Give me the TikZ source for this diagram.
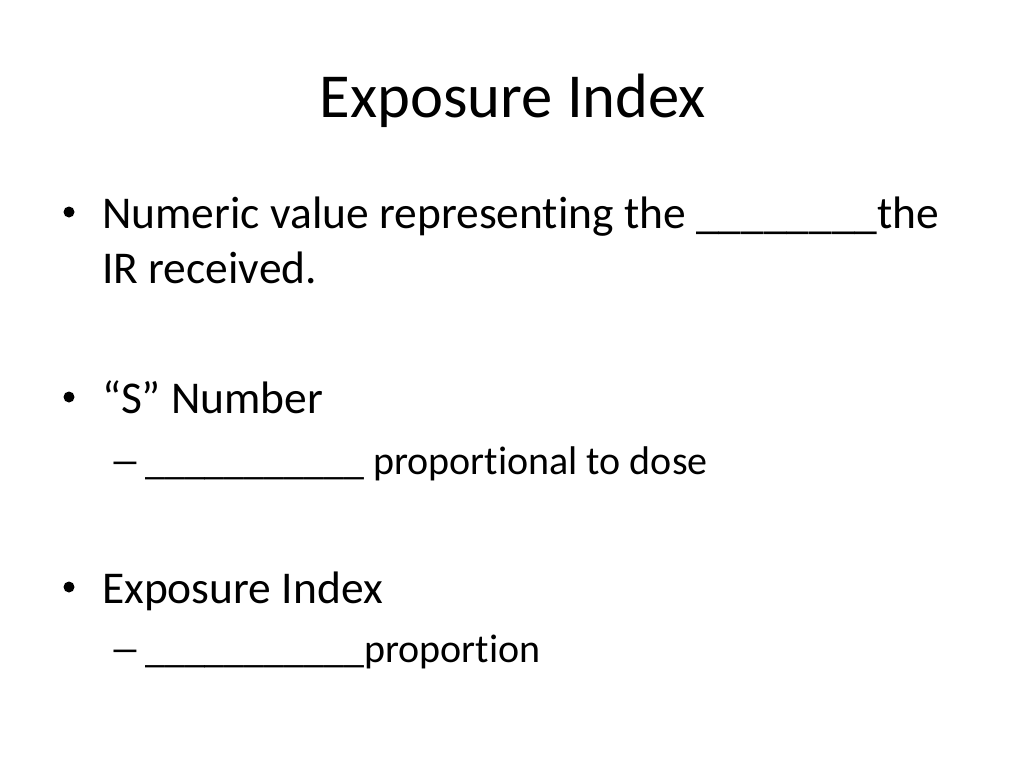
\documentclass[tikz,border=0pt]{standalone}
\usepackage{fontspec}
\setmainfont{Carlito}[Ligatures={NoCommon}]
\usepackage{graphicx}
\begin{document}
\begin{tikzpicture}[x=1pt,y=-1pt,
  title/.style={anchor=base,inner sep=0pt,font=\fontsize{62.6}{75}\selectfont},
  lvlone/.style={anchor=base west,inner sep=0pt,font=\fontsize{45.5}{55}\selectfont},
  lvltwo/.style={anchor=base west,inner sep=0pt,font=\fontsize{40}{48}\selectfont},
  bul/.style={circle,fill=black,inner sep=0pt,minimum size=11pt},
  dashmark/.style={anchor=base west,inner sep=0pt,font=\fontsize{40}{48}\selectfont}]
\useasboundingbox[fill=white] (0,0) rectangle (1024,768);
\node[title] (t) at (513,117) {Exposure Index};
\node[bul] (b1) at (69,212) {};
\node[lvlone] (l1) at (102,228) {Numeric value representing the \_\_\_\_\_\_\_\_the};
\node[lvlone] (l1b) at (102,283) {IR received.};
\node[bul] (b2) at (69,397) {};
\node[lvlone] (l2) at (102,413) {“S” Number};
\node[dashmark] (d2) at (109,474) {\scalebox{1.6}[1]{–}};
\node[lvltwo] (s2) at (145,474) {\_\_\_\_\_\_\_\_\_\_\_ proportional to dose};
\node[bul] (b3) at (69,587) {};
\node[lvlone] (l3) at (102,603) {Exposure Index};
\node[dashmark] (d3) at (109,662) {\scalebox{1.6}[1]{–}};
\node[lvltwo] (s3) at (145,662) {\_\_\_\_\_\_\_\_\_\_\_proportion};
\end{tikzpicture}
\end{document}
